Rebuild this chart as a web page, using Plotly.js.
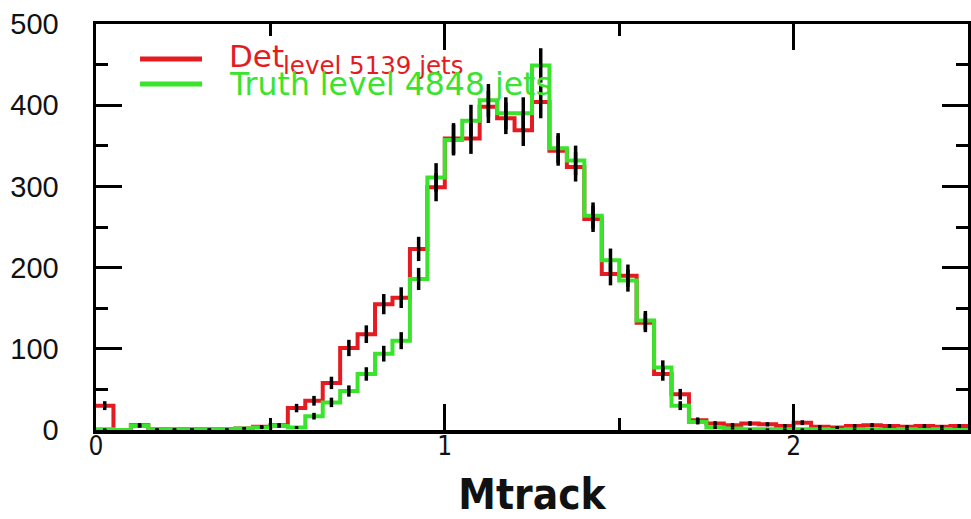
<!DOCTYPE html>
<html>
<head>
<meta charset="utf-8">
<script src="https://cdn.plot.ly/plotly-3.0.1.min.js"></script>
<style>
  html, body { margin: 0; padding: 0; background: #ffffff; }
  #plot { width: 971px; height: 519px; }
</style>
</head>
<body>
<div id="plot"></div>
<script>
// Track-mass histograms, 50 bins of width 0.05 from 0 to 2.5
const binWidth = 0.05;
const nBins = 50;

// Detector level counts per bin
const detCounts = [
  30, 0, 6, 1, 1, 1, 1, 1, 2, 4,
  6, 27, 36, 58, 101, 118, 155, 163, 223, 299,
  359, 359, 398, 384, 369, 404, 344, 324, 260, 192,
  190, 132, 69, 44, 12, 8, 6, 8, 7, 5,
  9, 4, 3, 5, 6, 5, 4, 5, 4, 5
];

// Truth level counts per bin
const truthCounts = [
  1, 0, 5, 1, 1, 1, 1, 1, 2, 3,
  5, 3, 17, 34, 48, 69, 94, 110, 186, 311,
  357, 381, 406, 390, 390, 449, 347, 332, 264, 209,
  184, 135, 77, 30, 10, 3, 2, 1, 1, 1,
  1, 1, 0, 1, 1, 0, 1, 0, 1, 0
];

const xTickVals = [0, 1, 2];
const xTickText = ['0', '1', '2'];
const yTickVals = [0, 100, 200, 300, 400, 500];
const yTickText = ['0', '100', '200', '300', '400', '500'];

const detLabel = 'Det';
const detSubLabel = 'level 5139 jets';
const truthLabel = 'Truth level 4848 jets';
const xTitle = 'Mtrack';

const RED = 'rgb(228,28,34)';
const GREEN = 'rgb(58,228,44)';

// bin edges and centres
const edges = [];
for (let i = 0; i <= nBins; i++) edges.push(+(i * binWidth).toFixed(4));
const centers = [];
for (let i = 0; i < nBins; i++) centers.push(+((i + 0.5) * binWidth).toFixed(4));

function stepTrace(counts, color) {
  return {
    type: 'scatter',
    mode: 'lines',
    x: edges,
    y: counts.concat([counts[counts.length - 1]]),
    line: { shape: 'hv', color: color, width: 4 },
    hoverinfo: 'skip',
    showlegend: false
  };
}

function errorTrace(counts) {
  return {
    type: 'scatter',
    mode: 'markers',
    x: centers,
    y: counts,
    marker: { size: 2, color: 'rgba(0,0,0,0)' },
    error_y: { type: 'sqrt', visible: true, color: '#000000', thickness: 3.5, width: 0 },
    hoverinfo: 'skip',
    showlegend: false
  };
}

const traces = [
  stepTrace(detCounts, RED),
  stepTrace(truthCounts, GREEN),
  errorTrace(detCounts),
  errorTrace(truthCounts)
];

const axisCommon = {
  showgrid: false,
  zeroline: false,
  showline: true,
  linecolor: '#000000',
  linewidth: 3.5,
  mirror: 'allticks',
  ticks: 'inside',
  tickcolor: '#000000',
  tickwidth: 3,
  ticklen: 26
};

const CONDENSED = 'DejaVu Sans Condensed, Liberation Sans Narrow, sans-serif';

const layout = {
  width: 971,
  height: 519,
  margin: { l: 96, r: 3, t: 24, b: 89 },
  paper_bgcolor: '#ffffff',
  plot_bgcolor: '#ffffff',
  xaxis: Object.assign({}, axisCommon, {
    range: [0, 2.5],
    tickmode: 'array',
    tickvals: xTickVals,
    ticktext: xTickText,
    tickfont: { family: CONDENSED, size: 26, color: '#111111' },
    ticklabelstandoff: -10,
    minor: { dtick: 0.5, tick0: 0, ticks: 'inside', ticklen: 12, tickwidth: 3, tickcolor: '#000000' },
    title: {
      text: '<b>' + xTitle + '</b>',
      font: { family: CONDENSED, size: 42, color: '#111111' },
      standoff: 32
    }
  }),
  yaxis: Object.assign({}, axisCommon, {
    range: [0, 500],
    tickmode: 'array',
    tickvals: yTickVals,
    ticktext: yTickText,
    tickfont: { family: 'Liberation Sans, Arial, sans-serif', size: 29, color: '#111111' },
    ticklabelstandoff: 28,
    minor: { dtick: 50, tick0: 0, ticks: 'inside', ticklen: 12, tickwidth: 3, tickcolor: '#000000' }
  }),
  shapes: [
    { type: 'line', xref: 'paper', yref: 'paper', x0: 0.0505, x1: 0.1216, y0: 0.914, y1: 0.914,
      line: { color: RED, width: 5 } },
    { type: 'line', xref: 'paper', yref: 'paper', x0: 0.0505, x1: 0.1216, y0: 0.852, y1: 0.852,
      line: { color: GREEN, width: 5 } }
  ],
  annotations: [
    { xref: 'paper', yref: 'paper', x: 0.150, y: 0.921, xanchor: 'left', yanchor: 'middle',
      text: detLabel, showarrow: false,
      font: { family: 'DejaVu Sans, sans-serif', size: 31, color: RED } },
    { xref: 'paper', yref: 'paper', x: 0.212, y: 0.897, xanchor: 'left', yanchor: 'middle',
      text: detSubLabel, showarrow: false,
      font: { family: 'DejaVu Sans, sans-serif', size: 24.5, color: RED } },
    { xref: 'paper', yref: 'paper', x: 0.150, y: 0.853, xanchor: 'left', yanchor: 'middle',
      text: truthLabel, showarrow: false,
      font: { family: 'DejaVu Sans, sans-serif', size: 31.5, color: GREEN } }
  ]
};

Plotly.newPlot('plot', traces, layout, { displayModeBar: false, staticPlot: true });
</script>
</body>
</html>
